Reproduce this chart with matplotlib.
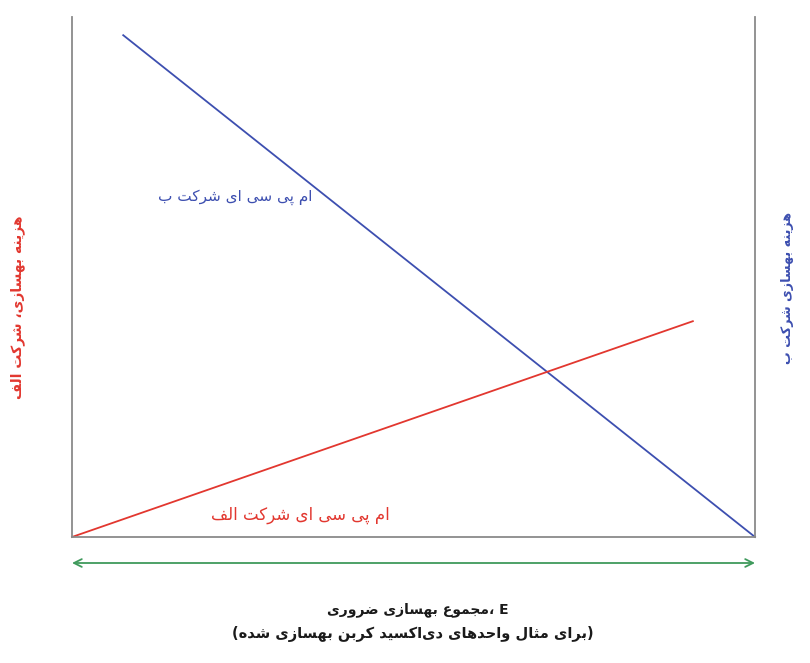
import matplotlib
matplotlib.use("Agg")
import matplotlib.pyplot as plt

# ---------------- data ----------------
mpc_b_x = [7.5, 100.0]
mpc_b_y = [96.5, 0.0]
mpc_a_x = [0.0, 90.9]
mpc_a_y = [0.0, 41.5]

label_b = "ام پی سی ای شرکت ب"
label_a = "ام پی سی ای شرکت الف"
xlabel_1 = "مجموع بهسازی ضروری"
xlabel_1_tail = "، E"
xlabel_2 = "(برای مثال واحدهای دی\u200cاکسید کربن بهسازی شده)"
ylabel_left = "هزینه بهسازی، شرکت الف"
ylabel_right = "هزینه بهسازی شرکت ب"

# ---------------- minimal Arabic/Persian shaping ----------------
FORMS = {
    'ا': (0xFE8D, 0xFE8E), 'د': (0xFEA9, 0xFEAA), 'ذ': (0xFEAB, 0xFEAC),
    'ر': (0xFEAD, 0xFEAE), 'ز': (0xFEAF, 0xFEB0), 'ژ': (0xFB8A, 0xFB8B),
    'و': (0xFEED, 0xFEEE),
    'ب': (0xFE8F, 0xFE90, 0xFE91, 0xFE92), 'پ': (0xFB56, 0xFB57, 0xFB58, 0xFB59),
    'ت': (0xFE95, 0xFE96, 0xFE97, 0xFE98), 'ث': (0xFE99, 0xFE9A, 0xFE9B, 0xFE9C),
    'ج': (0xFE9D, 0xFE9E, 0xFE9F, 0xFEA0), 'ح': (0xFEA1, 0xFEA2, 0xFEA3, 0xFEA4),
    'خ': (0xFEA5, 0xFEA6, 0xFEA7, 0xFEA8), 'س': (0xFEB1, 0xFEB2, 0xFEB3, 0xFEB4),
    'ش': (0xFEB5, 0xFEB6, 0xFEB7, 0xFEB8), 'ص': (0xFEB9, 0xFEBA, 0xFEBB, 0xFEBC),
    'ض': (0xFEBD, 0xFEBE, 0xFEBF, 0xFEC0), 'ط': (0xFEC1, 0xFEC2, 0xFEC3, 0xFEC4),
    'ظ': (0xFEC5, 0xFEC6, 0xFEC7, 0xFEC8), 'ع': (0xFEC9, 0xFECA, 0xFECB, 0xFECC),
    'غ': (0xFECD, 0xFECE, 0xFECF, 0xFED0), 'ف': (0xFED1, 0xFED2, 0xFED3, 0xFED4),
    'ق': (0xFED5, 0xFED6, 0xFED7, 0xFED8), 'ک': (0xFB8E, 0xFB8F, 0xFB90, 0xFB91),
    'گ': (0xFB92, 0xFB93, 0xFB94, 0xFB95), 'ل': (0xFEDD, 0xFEDE, 0xFEDF, 0xFEE0),
    'م': (0xFEE1, 0xFEE2, 0xFEE3, 0xFEE4), 'ن': (0xFEE5, 0xFEE6, 0xFEE7, 0xFEE8),
    'ه': (0xFEE9, 0xFEEA, 0xFEEB, 0xFEEC), 'ی': (0xFBFC, 0xFBFD, 0xFBFE, 0xFBFF),
}


def shape(s):
    out = []
    i = 0
    n = len(s)
    while i < n:
        c = s[i]
        if c not in FORMS:
            if c != '\u200c':
                out.append(c)
            i += 1
            continue
        prev = s[i - 1] if i > 0 else None
        nxt = s[i + 1] if i < n - 1 else None
        jp = prev in FORMS and len(FORMS[prev]) == 4
        if c == 'ل' and nxt == 'ا':
            out.append(chr(0xFEFC if jp else 0xFEFB))
            i += 2
            continue
        f = FORMS[c]
        jn = len(f) == 4 and nxt in FORMS
        if jp and jn:
            out.append(chr(f[3]))
        elif jp:
            out.append(chr(f[1]))
        elif jn:
            out.append(chr(f[2]))
        else:
            out.append(chr(f[0]))
        i += 1
    return ''.join(out)


def rtl(s):
    v = shape(s)[::-1]
    return v.translate(str.maketrans({'(': ')', ')': '('}))


# ---------------- figure ----------------
RED = '#e2372f'
BLUE = '#3d4fb0'
GREEN = '#3f9a5c'
GRAY = '#8a8a8a'
FONT = ['DejaVu Sans']

fig = plt.figure(figsize=(8.10, 6.63), dpi=100)
ax = fig.add_axes([72 / 810, 1 - 537 / 663, (755 - 72) / 810, (537 - 17) / 663])
ax.set_xlim(0, 100)
ax.set_ylim(0, 100)
ax.set_xticks([])
ax.set_yticks([])
ax.spines['top'].set_visible(False)
for side in ('left', 'right', 'bottom'):
    ax.spines[side].set_color(GRAY)
    ax.spines[side].set_linewidth(1.3)

ax.plot(mpc_b_x, mpc_b_y, color=BLUE, lw=1.3, clip_on=False)
ax.plot(mpc_a_x, mpc_a_y, color=RED, lw=1.3, clip_on=False)

ax.text(23.9, 65.4, rtl(label_b), color=BLUE, fontsize=11, family=FONT,
        ha='center', va='center')
ax.text(33.4, 4.2, rtl(label_a), color=RED, fontsize=12, family=FONT,
        ha='center', va='center')

ax.annotate('', xy=(0, -5.0), xytext=(100, -5.0), xycoords='data',
            arrowprops=dict(arrowstyle='<->', color=GREEN, lw=1.3,
                            shrinkA=0, shrinkB=0, mutation_scale=14),
            annotation_clip=False)

fig.text(418 / 810, 1 - 610 / 663, rtl(xlabel_1) + xlabel_1_tail, color='#1a1a1a',
         fontsize=10, fontweight='bold', family=FONT, ha='center', va='center')
fig.text(413 / 810, 1 - 634 / 663, rtl(xlabel_2), color='#1a1a1a',
         fontsize=10.5, fontweight='bold', family=FONT, ha='center', va='center')

fig.text(18 / 810, 1 - 307 / 663, rtl(ylabel_left), color=RED, rotation=90,
         fontsize=10, fontweight='bold', family=FONT, ha='center', va='center')
fig.text(788 / 810, 1 - 288 / 663, rtl(ylabel_right), color=BLUE, rotation=90,
         fontsize=9.2, fontweight='bold', family=FONT, ha='center', va='center')

fig.savefig('out.png', dpi=100, facecolor='white')
